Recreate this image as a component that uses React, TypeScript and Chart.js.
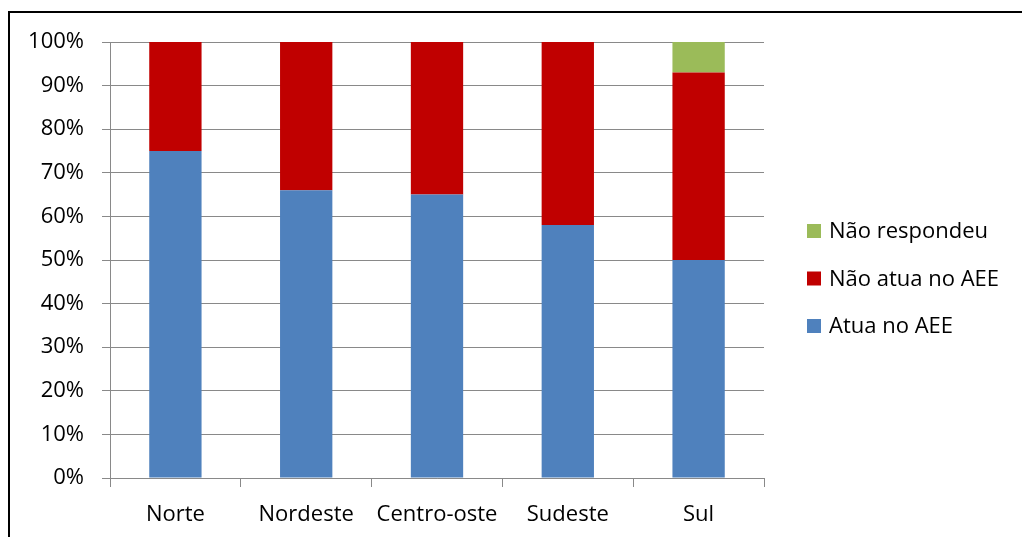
import React, { useEffect, useRef } from "react";
import { Chart, registerables } from "chart.js";

Chart.register(...registerables);

const categories = ["Norte", "Nordeste", "Centro-oste", "Sudeste", "Sul"];
const atuaNoAEE = [75, 66, 65, 58, 50];
const naoAtuaNoAEE = [25, 34, 35, 42, 43];
const naoRespondeu = [0, 0, 0, 0, 7];
const yTicks = [0, 10, 20, 30, 40, 50, 60, 70, 80, 90, 100];

const FONT = "'Open Sans', sans-serif";
const FONT_SIZE = 22;

const framePlugin = {
  id: "frame",
  beforeDraw(chart: any) {
    const ctx = chart.ctx;
    ctx.save();
    ctx.fillStyle = "#ffffff";
    ctx.fillRect(0, 0, chart.width, chart.height);
    ctx.strokeStyle = "#000000";
    ctx.lineWidth = 2;
    ctx.strokeRect(9, 12, 1100, 600);
    ctx.restore();
  },
};

const legendPlugin = {
  id: "customLegend",
  afterDraw(chart: any) {
    const ctx = chart.ctx;
    const ds = chart.data.datasets.slice().reverse();
    const x0 = 807;
    const y0 = 231;
    const step = 47.5;
    ctx.save();
    ctx.font = `${FONT_SIZE}px ${FONT}`;
    ctx.textBaseline = "middle";
    ctx.textAlign = "left";
    ds.forEach((d: any, i: number) => {
      const cy = y0 + i * step;
      ctx.fillStyle = d.backgroundColor;
      ctx.fillRect(x0, cy - 7, 14, 14);
      ctx.fillStyle = "#000000";
      ctx.fillText(d.label, x0 + 22, cy + 1);
    });
    ctx.restore();
  },
};

export default function App() {
  const ref = useRef<HTMLCanvasElement>(null);
  useEffect(() => {
    if (!ref.current) return;
    const chart = new Chart(ref.current, {
      type: "bar",
      data: {
        labels: categories,
        datasets: [
          { label: "Atua no AEE", data: atuaNoAEE, backgroundColor: "#4F81BD" },
          { label: "Não atua no AEE", data: naoAtuaNoAEE, backgroundColor: "#C00000" },
          { label: "Não respondeu", data: naoRespondeu, backgroundColor: "#9BBB59" },
        ],
      },
      options: {
        animation: false,
        responsive: true,
        maintainAspectRatio: false,
        layout: { padding: { left: 0, top: 42, right: 258, bottom: 0 } },
        datasets: { bar: { categoryPercentage: 1, barPercentage: 0.4, borderWidth: 0 } },
        plugins: { legend: { display: false }, tooltip: { enabled: false } },
        scales: {
          x: {
            stacked: true,
            grid: { offset: true, drawOnChartArea: false, drawTicks: true, tickLength: 9, color: "#898989" },
            border: { color: "#898989", width: 1 },
            ticks: { color: "#000", font: { family: FONT, size: FONT_SIZE }, padding: 15 },
            afterFit(scale: any) { scale.height = 59; },
          },
          y: {
            stacked: true,
            min: 0,
            max: 100,
            afterBuildTicks(scale: any) { scale.ticks = yTicks.map((v) => ({ value: v })); },
            grid: { color: "#898989", tickLength: 8, lineWidth: 1 },
            border: { color: "#898989", width: 1 },
            ticks: {
              color: "#000",
              font: { family: FONT, size: FONT_SIZE },
              padding: 18,
              callback: (v: any) => `${v}%`,
            },
            afterFit(scale: any) { scale.width = 110; },
          },
        },
      },
      plugins: [framePlugin, legendPlugin],
    });
    return () => chart.destroy();
  }, []);
  return (
    <div style={{ position: "absolute", left: 0, top: 0, width: 1022, height: 537 }}>
      <canvas ref={ref} />
    </div>
  );
}
